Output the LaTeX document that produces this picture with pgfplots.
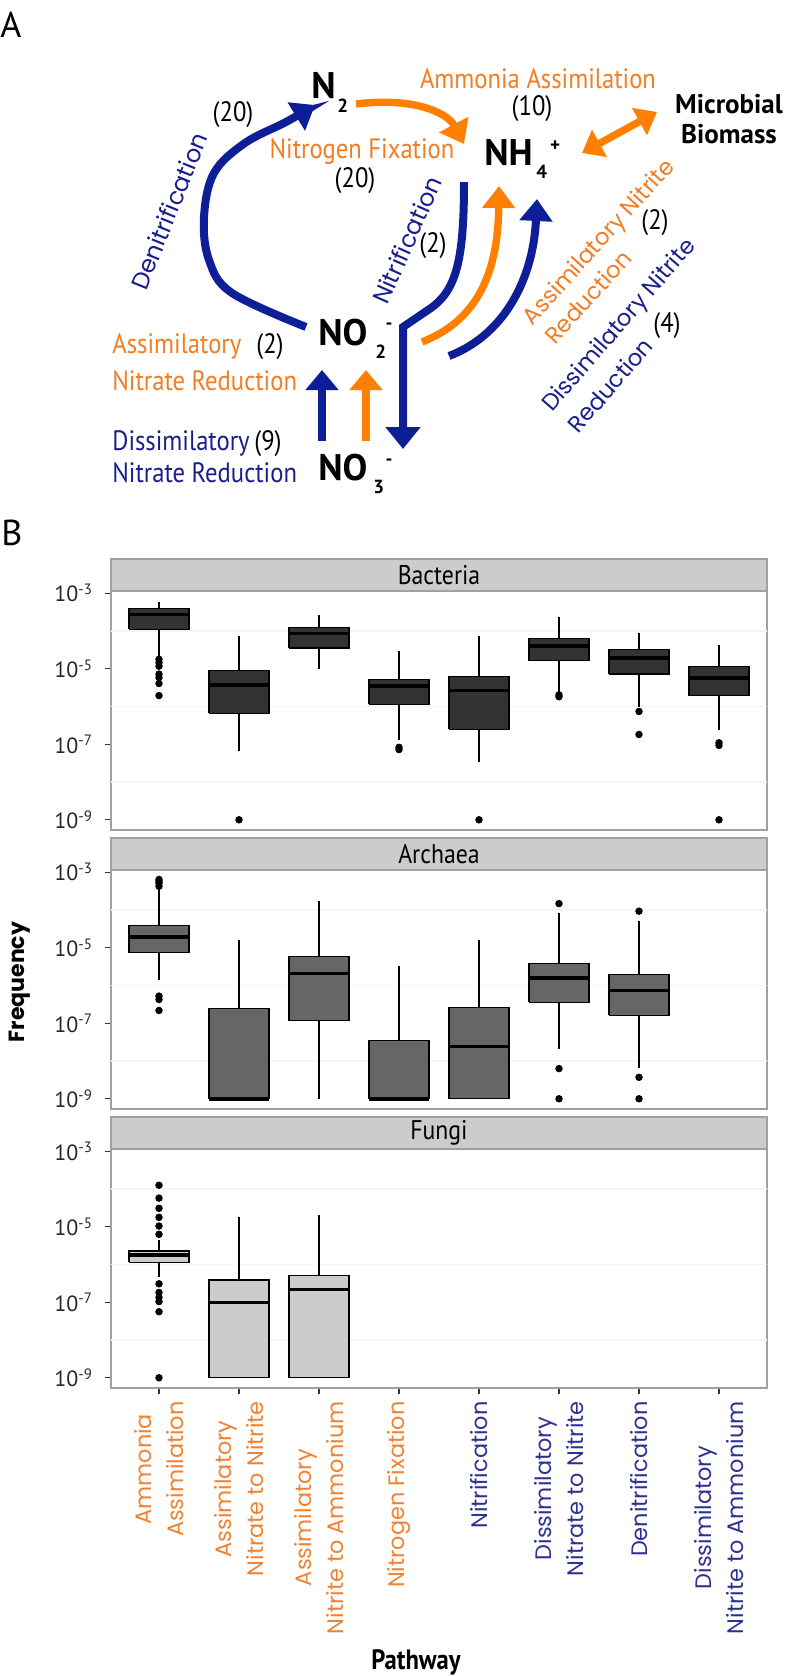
\documentclass[border=0pt]{standalone}
\usepackage{fontspec}
\setmainfont{PT Sans}
\newfontfamily\condf[FakeStretch=0.88]{PT Sans}
\newfontfamily\geof{Poppins}
\usepackage{pgfplots}
\pgfplotsset{compat=1.18}
\usetikzlibrary{arrows.meta}

\definecolor{navyA}{RGB}{14,30,150}
\definecolor{orangeA}{RGB}{255,128,0}
\definecolor{navyT}{RGB}{25,30,140}
\definecolor{orangeT}{RGB}{242,125,35}
\definecolor{xorange}{RGB}{240,130,50}
\definecolor{xnavy}{RGB}{46,49,146}
\definecolor{bactc}{HTML}{333333}
\definecolor{archc}{HTML}{666666}
\definecolor{fungc}{HTML}{CCCCCC}
\definecolor{stripc}{HTML}{CCCCCC}
\definecolor{framec}{HTML}{A0A0A0}

\newcommand{\sps}[1]{\raisebox{3.6pt}{\fontsize{7.5}{8}\selectfont #1}}
\newcommand{\lbl}{\condf\fontsize{14}{16}\selectfont}
\newcommand{\chem}{\fontsize{18.5}{20}\selectfont\bfseries}
\newcommand{\chs}{\fontsize{9.5}{10}\selectfont\bfseries}
\newcommand{\rot}{\geof\fontsize{11.5}{13}\selectfont}
\newcommand{\rotb}{\geof\fontsize{12}{13}\selectfont}

% box: colour, position, lower whisker, lower quartile, median, upper quartile, upper whisker
\newcommand{\bx}[7]{%
  \pgfmathsetmacro{\xl}{#2-0.375}%
  \pgfmathsetmacro{\xr}{#2+0.375}%
  \edef\tmpbox{%
   \noexpand\addplot[black, line width=0.55pt] coordinates {(#2,#3) (#2,#4)};
   \noexpand\addplot[black, line width=0.55pt] coordinates {(#2,#6) (#2,#7)};
   \noexpand\addplot[draw=black, fill=#1, line width=0.6pt, line join=miter] coordinates {(\xl,#4) (\xr,#4) (\xr,#6) (\xl,#6) (\xl,#4)};
   \noexpand\addplot[black, line width=1.8pt] coordinates {(\xl,#5) (\xr,#5)};
  }\tmpbox}
\newcommand{\strip}[1]{%
  \draw[fill=stripc, draw=framec, line width=0.6pt] (rel axis cs:0,1) rectangle ([yshift=16pt]rel axis cs:1,1);
  \node[font=\condf\fontsize{13.5}{14}\selectfont] at ([yshift=8pt]rel axis cs:0.5,1) {#1};}

\pgfplotsset{
 panel/.style={scale only axis, width=328pt, height=119.5pt,
  xmin=0.4, xmax=8.6, ymin=-9.27, ymax=-2.94, clip=false,
  axis line style={framec, line width=0.6pt},
  ytick={-9,-7,-5,-3},
  yticklabels={10\sps{-9},10\sps{-7},10\sps{-5},10\sps{-3}},
  yticklabel style={font=\fontsize{11}{12}\selectfont, text=black!85, xshift=-3pt},
  ytick pos=left, tick align=outside, major tick length=3pt,
  tick style={black!80, line width=0.6pt},
  extra y ticks={-4,-6,-8}, extra y tick labels={},
  extra y tick style={grid=major, major tick length=0pt, major grid style={black!4, line width=0.8pt}},
 },
 outl/.style={only marks, mark=*, mark size=1.65pt, black},
}

\begin{document}
\begin{tikzpicture}
\useasboundingbox (0pt,0pt) rectangle (398pt,-838pt);

% ---------------- Panel A ----------------
\begin{scope}[x=0.5pt, y=-0.5pt]
\node[anchor=base west, inner sep=0, font=\fontsize{18}{20}\selectfont] at (0,37) {A};
\node[anchor=base west, inner sep=0, font=\fontsize{18}{20}\selectfont] at (1,545) {B};

% arrows
\draw[navyA, line width=4pt, -{Triangle[width=16pt,length=11pt]}]
  plot[smooth, tension=0.6] coordinates {(306,327) (232,293) (209,260) (204,217) (214,173) (245,143) (286,122) (315,105)};
\draw[orangeA, line width=3.7pt, -{Triangle[width=16pt,length=11pt]}]
  (356,104) .. controls (412,97) and (447,112) .. (464,144);
\draw[orangeA, line width=3.7pt, {Triangle[width=15pt,length=10pt]}-{Triangle[width=15pt,length=10pt]}]
  (582,153) -- (657,112);
\draw[navyA, line width=4pt, -{Triangle[width=17pt,length=11pt]}]
  (464,182) .. controls (464,262) and (456,292) .. (428,310) -- (403,327) -- (403,449);
\draw[orangeA, line width=3.7pt, -{Triangle[width=16pt,length=11pt]}]
  (422,342) .. controls (478,320) and (498,272) .. (499,186);
\draw[navyA, line width=4pt, -{Triangle[width=16pt,length=11pt]}]
  (449,356) .. controls (502,336) and (533,282) .. (537,199);
\draw[navyA, line width=4pt, -{Triangle[width=16pt,length=10pt]}] (322,441) -- (322,370);
\draw[orangeA, line width=3.6pt, -{Triangle[width=16pt,length=10pt]}] (366,441) -- (366,370);

% chemical species
\node[anchor=base west, inner sep=0, font=\chem] at (311,98) {N};
\node[anchor=base west, inner sep=0, font=\chs] at (337,112) {2};
\node[anchor=base west, inner sep=0, font=\chem] at (484,165) {NH};
\node[anchor=base west, inner sep=0, font=\chs] at (536,178) {4};
\node[anchor=center, inner sep=0, font=\chs] at (555,146) {+};
\node[anchor=base west, inner sep=0, font=\chem] at (318,345) {NO};
\node[anchor=base west, inner sep=0, font=\chs] at (375,358) {2};
\node[anchor=center, inner sep=0, font=\chs] at (389,326) {-};
\node[anchor=base west, inner sep=0, font=\chem] at (318,480) {NO};
\node[anchor=base west, inner sep=0, font=\chs] at (373,493) {3};
\node[anchor=center, inner sep=0, font=\chs] at (389,462) {-};
\node[anchor=base, inner sep=0, font=\fontsize{13.5}{15}\selectfont\bfseries] at (729,113) {Microbial};
\node[anchor=base, inner sep=0, font=\fontsize{13.5}{15}\selectfont\bfseries] at (729,143) {Biomass};

% pathway labels
\node[anchor=base, inner sep=0, font=\lbl, text=orangeT] at (538,88) {Ammonia Assimilation};
\node[anchor=base, inner sep=0, font=\lbl] at (532,115) {(10)};
\node[anchor=base, inner sep=0, font=\lbl, text=orangeT] at (362,158) {Nitrogen Fixation};
\node[anchor=base, inner sep=0, font=\lbl] at (355,187) {(20)};
\node[anchor=base, inner sep=0, font=\lbl] at (233,121) {(20)};
\node[anchor=base, inner sep=0, font=\lbl] at (433,252) {(2)};
\node[anchor=base, inner sep=0, font=\lbl] at (655,229) {(2)};
\node[anchor=base, inner sep=0, font=\lbl] at (667,332) {(4)};
\node[anchor=base west, inner sep=0, font=\lbl, text=orangeT] at (112,353) {Assimilatory};
\node[anchor=base west, inner sep=0, font=\lbl] at (256,353) {(2)};
\node[anchor=base west, inner sep=0, font=\lbl, text=orangeT] at (112,390) {Nitrate Reduction};
\node[anchor=base west, inner sep=0, font=\lbl, text=navyT] at (112,450) {Dissimilatory};
\node[anchor=base west, inner sep=0, font=\lbl] at (254,450) {(9)};
\node[anchor=base west, inner sep=0, font=\lbl, text=navyT] at (112,482) {Nitrate Reduction};

\node[rotate=68, inner sep=0, font=\rotb, text=navyT] at (169,211) {Denitrification};
\node[rotate=66, inner sep=0, font=\rotb, text=navyT] at (407,240) {Nitrification};
\node[rotate=48, inner sep=0, font=\rot, text=orangeT] at (600,243) {Assimilatory Nitrite};
\node[rotate=48, inner sep=0, font=\rot, text=orangeT] at (588,297) {Reduction};
\node[rotate=49, inner sep=0, font=\rot, text=navyT] at (620,326) {Dissimilatory Nitrite};
\node[rotate=49, inner sep=0, font=\rot, text=navyT] at (610,385) {Reduction};
\end{scope}

% ---------------- Panel B ----------------
\begin{axis}[panel, at={(55.5pt,-295.5pt)}, anchor=north west, xtick=\empty]
\bx{bactc}{1}{-4.67}{-3.95}{-3.56}{-3.40}{-3.23}
\bx{bactc}{2}{-7.18}{-6.18}{-5.43}{-5.04}{-4.14}
\bx{bactc}{3}{-5.01}{-4.45}{-4.07}{-3.91}{-3.58}
\bx{bactc}{4}{-6.89}{-5.94}{-5.45}{-5.28}{-4.53}
\bx{bactc}{5}{-7.46}{-6.60}{-5.58}{-5.21}{-4.14}
\bx{bactc}{6}{-5.61}{-4.79}{-4.40}{-4.20}{-3.64}
\bx{bactc}{7}{-6.00}{-5.14}{-4.71}{-4.49}{-4.04}
\bx{bactc}{8}{-6.61}{-5.71}{-5.24}{-4.93}{-4.37}
\addplot[outl] coordinates {(1,-4.75) (1,-4.84) (1,-4.93) (1,-5.14) (1,-5.23) (1,-5.39) (1,-5.71)
  (2,-9) (4,-7.08) (4,-7.14) (5,-9) (6,-5.69) (6,-5.74) (7,-6.13) (7,-6.74)
  (8,-6.96) (8,-7.03) (8,-9)};
\strip{Bacteria}
\end{axis}

\begin{axis}[panel, at={(55.5pt,-435pt)}, anchor=north west, xtick=\empty]
\bx{archc}{1}{-5.84}{-5.13}{-4.72}{-4.42}{-3.45}
\bx{archc}{2}{-9}{-9}{-9}{-6.61}{-4.80}
\bx{archc}{3}{-9}{-6.93}{-5.68}{-5.24}{-3.76}
\bx{archc}{4}{-9}{-9}{-9}{-7.45}{-5.47}
\bx{archc}{5}{-9}{-9}{-7.61}{-6.59}{-4.80}
\bx{archc}{6}{-7.67}{-6.44}{-5.80}{-5.42}{-4.09}
\bx{archc}{7}{-8.19}{-6.79}{-6.13}{-5.71}{-4.29}
\addplot[outl] coordinates {(1,-3.19) (1,-3.24) (1,-3.29) (1,-3.37) (1,-6.28) (1,-6.37) (1,-6.66)
  (6,-3.83) (6,-8.20) (6,-9) (7,-4.03) (7,-8.43) (7,-9)};
\strip{Archaea}
\end{axis}

\begin{axis}[panel, at={(55.5pt,-574.5pt)}, anchor=north west,
  xtick={1,...,8}, xticklabels={}, xtick pos=bottom]
\bx{fungc}{1}{-6.32}{-5.94}{-5.74}{-5.64}{-5.36}
\bx{fungc}{2}{-9}{-9}{-7.00}{-6.41}{-4.75}
\bx{fungc}{3}{-9}{-9}{-6.66}{-6.30}{-4.69}
\addplot[outl] coordinates {(1,-3.90) (1,-4.24) (1,-4.51) (1,-4.75) (1,-4.98) (1,-5.20)
  (1,-6.51) (1,-6.74) (1,-6.87) (1,-6.98) (1,-7.25) (1,-9)};
\strip{Fungi}
\begin{scope}[every node/.style={rotate=90, anchor=east, align=center, inner sep=0,
   font=\geof\fontsize{11.2}{16}\selectfont}]
\node[text=xorange] at ([yshift=-6.5pt]axis cs:1,-9.27) {Ammonia\\Assimilation};
\node[text=xorange] at ([yshift=-6.5pt]axis cs:2,-9.27) {Assimilatory\\Nitrate to Nitrite};
\node[text=xorange] at ([yshift=-6.5pt]axis cs:3,-9.27) {Assimilatory\\Nitrite to Ammonium};
\node[text=xorange] at ([yshift=-6.5pt]axis cs:4,-9.27) {Nitrogen Fixation};
\node[text=xnavy] at ([yshift=-6.5pt]axis cs:5,-9.27) {Nitrification};
\node[text=xnavy] at ([yshift=-6.5pt]axis cs:6,-9.27) {Dissimilatory\\Nitrate to Nitrite};
\node[text=xnavy] at ([yshift=-6.5pt]axis cs:7,-9.27) {Denitrification};
\node[text=xnavy] at ([yshift=-6.5pt]axis cs:8,-9.27) {Dissimilatory\\Nitrite to Ammonium};
\end{scope}
\end{axis}

\node[rotate=90, font=\geof\fontsize{11}{13}\selectfont\bfseries] at (10pt,-491pt) {Frequency};
\node[font=\condf\fontsize{14}{16}\selectfont\bfseries] at (208pt,-831pt) {Pathway};
\end{tikzpicture}
\end{document}
